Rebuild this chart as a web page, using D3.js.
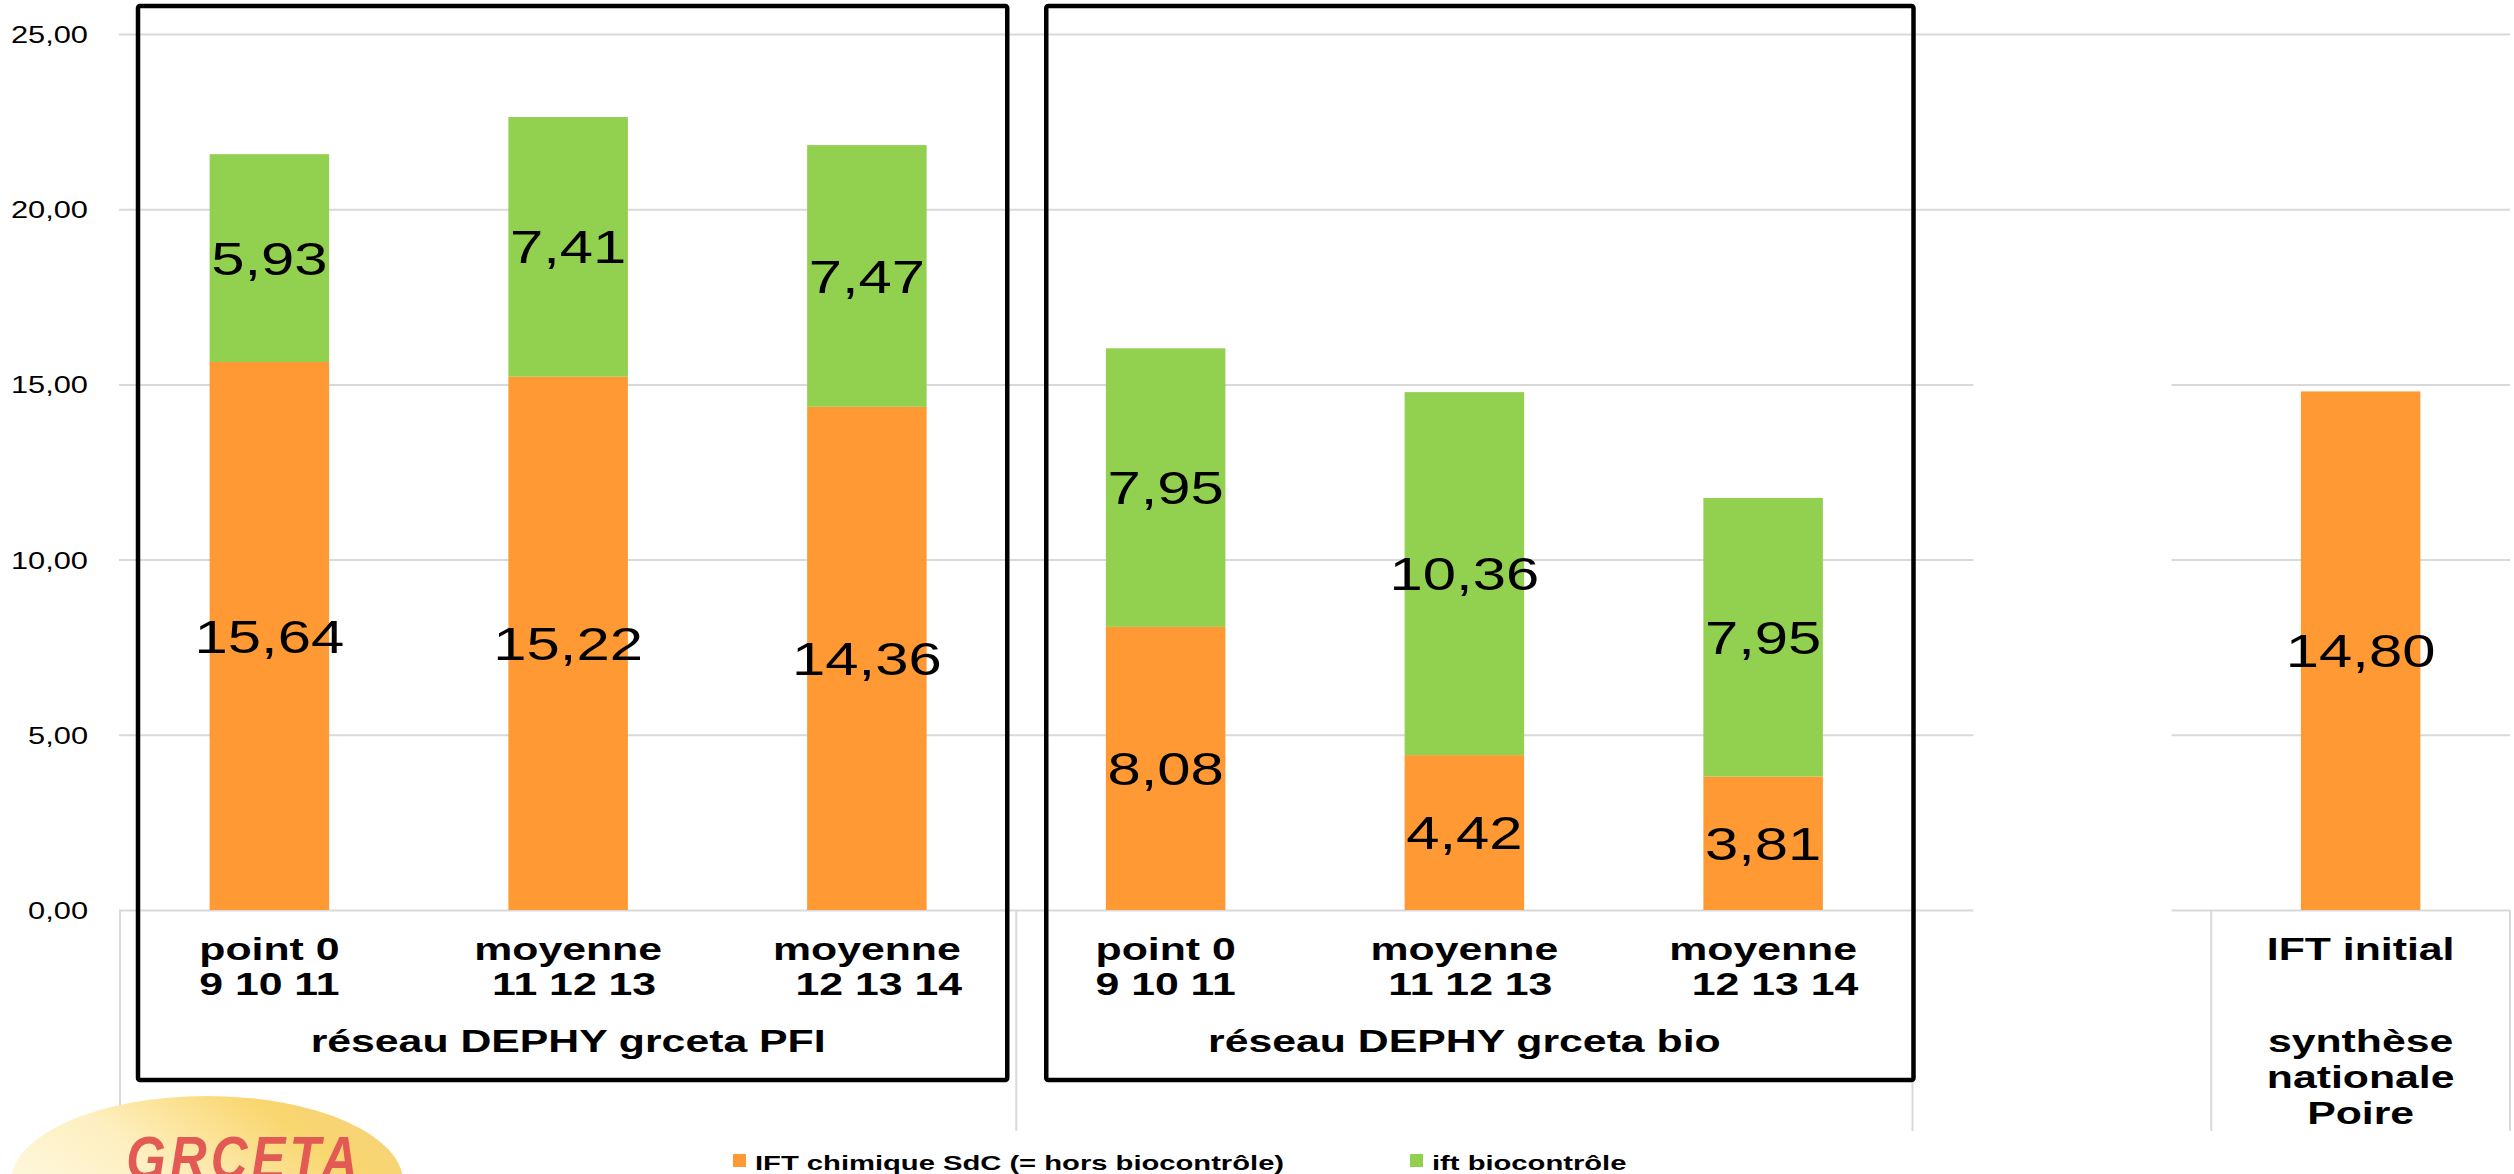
<!DOCTYPE html>
<html>
<head>
<meta charset="utf-8">
<script src="https://cdn.jsdelivr.net/npm/d3@7"></script>
<style>
    body { margin: 0; background: #fff; }
    svg text { font-family: "Liberation Sans", Arial, sans-serif; white-space: pre; }
</style>
</head>
<body>
<div id="chart"></div>
<script>
// categories (inner level), with their outer group index
const categories = ["point 0\n9 10 11", "moyenne\n 11 12 13", "moyenne\n  12 13 14",
                    "point 0\n9 10 11", "moyenne\n 11 12 13", "moyenne\n  12 13 14",
                    "", "IFT initial"];
const groupOf = [0, 0, 0, 1, 1, 1, 2, 3];
const groups = ["réseau DEPHY grceta PFI", "réseau DEPHY grceta bio", "", "synthèse\nnationale\nPoire"];

// series
const iftChimique = [15.64, 15.22, 14.36, 8.08, 4.42, 3.81, null, 14.80];
const iftBiocontrole = [5.93, 7.41, 7.47, 7.95, 10.36, 7.95, null, null];
const seriesNames = ["IFT chimique SdC (= hors biocontrôle)", "ift biocontrôle"];
const colors = ["#FF9933", "#92D050"];

const yTicks = [0, 5, 10, 15, 20, 25];

const width = 2514, height = 1174;
const left = 120, right = 2510;

const fr = d3.formatLocale({decimal: ",", thousands: " ", grouping: [3], currency: ["", "€"]}).format(".2f");

const svg = d3.select("#chart").append("svg")
    .attr("width", width)
    .attr("height", height);

const x = d3.scaleBand()
    .domain(d3.range(categories.length))
    .range([left, right])
    .paddingInner(0.6)
    .paddingOuter(0.3);
const slotX = i => left + i * x.step();

const y = d3.scaleLinear().domain([0, 25]).range([910, 34]);

// gridlines + tick labels
const gy = svg.append("g")
    .attr("transform", "translate(119,0)")
    .call(d3.axisLeft(y).tickValues(yTicks).tickSize(-(right - 119)).tickPadding(0).tickFormat(fr));
gy.select(".domain").remove();
gy.attr("font-family", null);
gy.selectAll(".tick line").attr("stroke", "#d9d9d9").attr("stroke-width", 2);
gy.selectAll(".tick text")
    .attr("x", 0)
    .attr("dy", "0.36em")
    .attr("font-size", 23.5)
    .attr("fill", "#000")
    .attr("transform", "translate(-31,0) scale(1.31,1)");

// blank text box over the empty slot
svg.append("rect")
    .attr("x", slotX(6) + 61)
    .attr("y", y(17.6))
    .attr("width", 198)
    .attr("height", 1140 - y(17.6))
    .attr("fill", "#fff");

// category axis separators
const bounds = [0, 3, 6, 7, 8];
svg.append("g").selectAll("line")
    .data(bounds)
    .join("line")
    .attr("x1", d => slotX(d))
    .attr("x2", d => slotX(d))
    .attr("y1", y(0))
    .attr("y2", 1131)
    .attr("stroke", "#d9d9d9")
    .attr("stroke-width", 2);

// stacked bars
const rows = categories.map((c, i) => ({i, a: iftChimique[i] || 0, b: iftBiocontrole[i] || 0}));
const stacked = d3.stack().keys(["a", "b"])(rows);

const layers = svg.append("g").selectAll("g")
    .data(stacked)
    .join("g")
    .attr("fill", (d, k) => colors[k]);

layers.selectAll("rect")
    .data(d => d.filter(s => s[1] > s[0]))
    .join("rect")
    .attr("x", d => x(d.data.i))
    .attr("y", d => y(d[1]))
    .attr("width", x.bandwidth())
    .attr("height", d => y(d[0]) - y(d[1]));

layers.selectAll("text")
    .data(d => d.filter(s => s[1] > s[0]))
    .join("text")
    .attr("transform", d => `translate(${x(d.data.i) + x.bandwidth() / 2},${y((d[0] + d[1]) / 2)}) scale(1.3,1)`)
    .attr("dy", "0.36em")
    .attr("text-anchor", "middle")
    .attr("font-size", 46)
    .attr("fill", "#000")
    .text(d => fr(d[1] - d[0]));

// inner category labels
const catG = svg.append("g").attr("font-weight", "bold").attr("font-size", 31).attr("text-anchor", "middle");
categories.forEach((c, i) => {
    c.split("\n").forEach((line, j) => {
        catG.append("text")
            .attr("transform", `translate(${x(i) + x.bandwidth() / 2},${960 + j * 35}) scale(1.38,1)`)
            .text(line);
    });
});

// outer group labels
groups.forEach((g, gi) => {
    const idx = groupOf.map((v, i) => v === gi ? i : -1).filter(i => i >= 0);
    const cx = (slotX(idx[0]) + slotX(idx[idx.length - 1] + 1)) / 2;
    g.split("\n").forEach((line, j) => {
        catG.append("text")
            .attr("transform", `translate(${cx},${1052 + j * 36}) scale(1.38,1)`)
            .text(line);
    });
});

// black frames around the two networks
const frames = [[slotX(0) + 18, slotX(3) - 9], [slotX(3) + 30, slotX(6) + 1]];
svg.append("g").selectAll("rect")
    .data(frames)
    .join("rect")
    .attr("x", d => d[0])
    .attr("y", 6)
    .attr("width", d => d[1] - d[0])
    .attr("height", 1074)
    .attr("fill", "none")
    .attr("stroke", "#000")
    .attr("stroke-width", 4.5)
    .attr("rx", 2);

// legend
const legendX = [733, 1410];
const leg = svg.append("g").selectAll("g")
    .data(seriesNames)
    .join("g")
    .attr("transform", (d, i) => `translate(${legendX[i]},1154)`);
leg.append("rect").attr("width", 13).attr("height", 13).attr("fill", (d, i) => colors[i]);
leg.append("text")
    .attr("transform", "translate(22,16) scale(1.39,1)")
    .attr("font-size", 21)
    .attr("font-weight", "bold")
    .text(d => d);

// logo
const defs = svg.append("defs");
const grad = defs.append("linearGradient").attr("id", "logoGrad")
    .attr("x1", 0).attr("y1", 0.8).attr("x2", 1).attr("y2", 0.2);
grad.append("stop").attr("offset", "0%").attr("stop-color", "#fffbe9");
grad.append("stop").attr("offset", "45%").attr("stop-color", "#fdefc0");
grad.append("stop").attr("offset", "80%").attr("stop-color", "#f9d66e");
grad.append("stop").attr("offset", "100%").attr("stop-color", "#f6d27a");
svg.append("ellipse")
    .attr("cx", 207).attr("cy", 1182)
    .attr("rx", 196).attr("ry", 86)
    .attr("fill", "url(#logoGrad)");
svg.append("text")
    .attr("transform", "translate(244,1179) scale(0.82,1)")
    .attr("text-anchor", "middle")
    .attr("font-size", 62)
    .attr("font-weight", "bold")
    .attr("font-style", "italic")
    .attr("letter-spacing", 5)
    .attr("fill", "#e35a55")
    .text("GRCETA");
</script>
</body>
</html>
